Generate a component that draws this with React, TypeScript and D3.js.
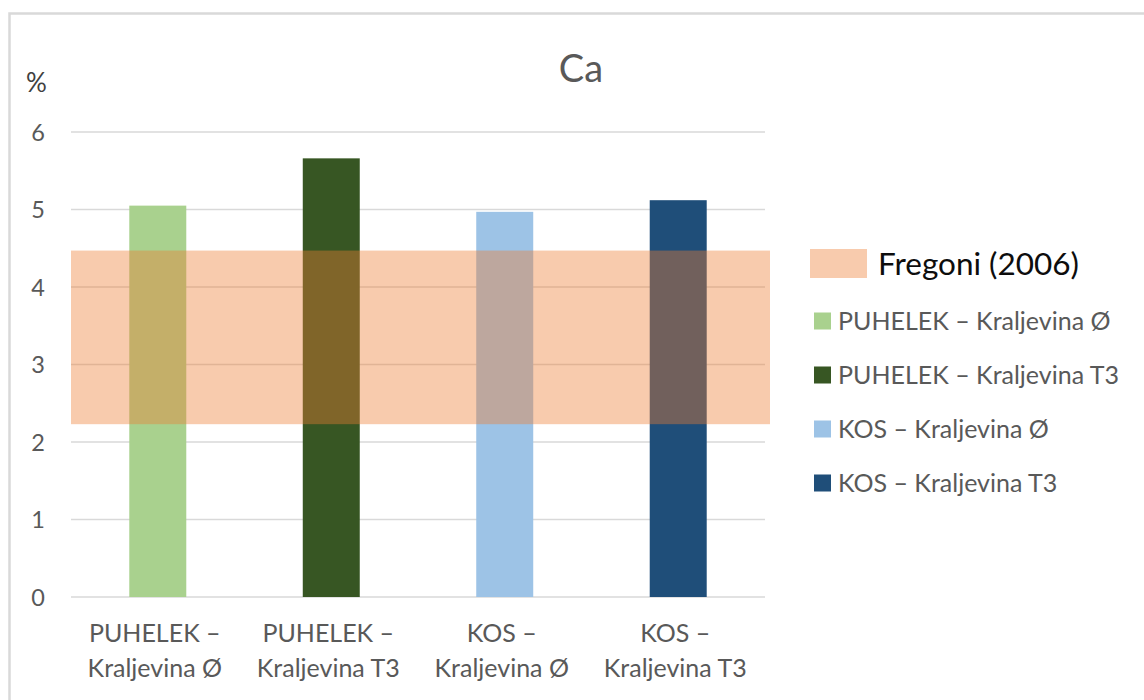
import React from "react";
import * as d3 from "d3";

const categories = ["PUHELEK – Kraljevina Ø", "PUHELEK – Kraljevina T3", "KOS – Kraljevina Ø", "KOS – Kraljevina T3"];
const categoryLines = [
  ["PUHELEK –", "Kraljevina Ø"],
  ["PUHELEK –", "Kraljevina T3"],
  ["KOS –", "Kraljevina Ø"],
  ["KOS –", "Kraljevina T3"],
];
const values = [5.05, 5.66, 4.97, 5.12];
const colors = ["#A9D18E", "#375623", "#9DC3E6", "#1F4E79"];
const yTicks = [0, 1, 2, 3, 4, 5, 6];
const rangeLabel = "Fregoni (2006)";
const rangeLow = 2.23;
const rangeHigh = 4.47;
const rangeColor = "#ED7D31";
const title = "Ca";
const unit = "%";

const FONT = "Lato, 'Noto Sans', sans-serif";

export default function App() {
  const W = 1144, H = 700;
  const plotLeft = 71, plotRight = 765, plotTop = 132, plotBottom = 597;
  const y = d3.scaleLinear().domain([0, 6]).range([plotBottom, plotTop]);
  const x = d3.scaleBand<string>().domain(categories).range([plotLeft, plotRight]).paddingInner(0.6715).paddingOuter(0.336);

  return (
    <svg width={W} height={H} style={{ position: "fixed", left: 0, top: 0, background: "#fff" }} fontFamily={FONT}>
      <rect x={0} y={0} width={W} height={H} fill="#fff" />
      <rect x={9.5} y={13.5} width={1300} height={900} fill="none" stroke="#d9d9d9" strokeWidth={2.5} />
      <text x={581} y={82} textAnchor="middle" fontSize={38} fill="#595959">{title}</text>
      <text x={26} y={92} fontSize={26} fill="#404040">{unit}</text>
      {yTicks.map((t) => (
        <g key={t}>
          <line x1={plotLeft} x2={plotRight} y1={y(t)} y2={y(t)} stroke="#d9d9d9" strokeWidth={1.5} />
          <text x={45} y={y(t) + 8.5} textAnchor="end" fontSize={23.5} fill="#595959">{t}</text>
        </g>
      ))}
      {categories.map((c, i) => (
        <rect key={c} x={x(c)} y={y(values[i])} width={x.bandwidth()} height={y(0) - y(values[i])} fill={colors[i]} />
      ))}
      <rect x={plotLeft} y={y(rangeHigh)} width={770 - plotLeft} height={y(rangeLow) - y(rangeHigh)} fill={rangeColor} fillOpacity={0.4} />
      {categories.map((c, i) => {
        const cx = (x(c) as number) + x.bandwidth() / 2 - 3;
        return (
          <g key={c}>
            <text x={cx} y={642} textAnchor="middle" fontSize={25} fill="#595959">{categoryLines[i][0]}</text>
            <text x={cx} y={677} textAnchor="middle" fontSize={25} fill="#595959">{categoryLines[i][1]}</text>
          </g>
        );
      })}
      <rect x={810} y={249} width={57} height={29} fill={rangeColor} fillOpacity={0.4} />
      <text x={878} y={275} fontSize={31.5} fill="#0d0d0d">{rangeLabel}</text>
      {categories.map((c, i) => {
        const cy = 321 + i * 54;
        return (
          <g key={c}>
            <rect x={814} y={cy - 8.5} width={17} height={17} fill={colors[i]} />
            <text x={838} y={cy + 8.5} fontSize={25} fill="#595959">{c}</text>
          </g>
        );
      })}
    </svg>
  );
}
